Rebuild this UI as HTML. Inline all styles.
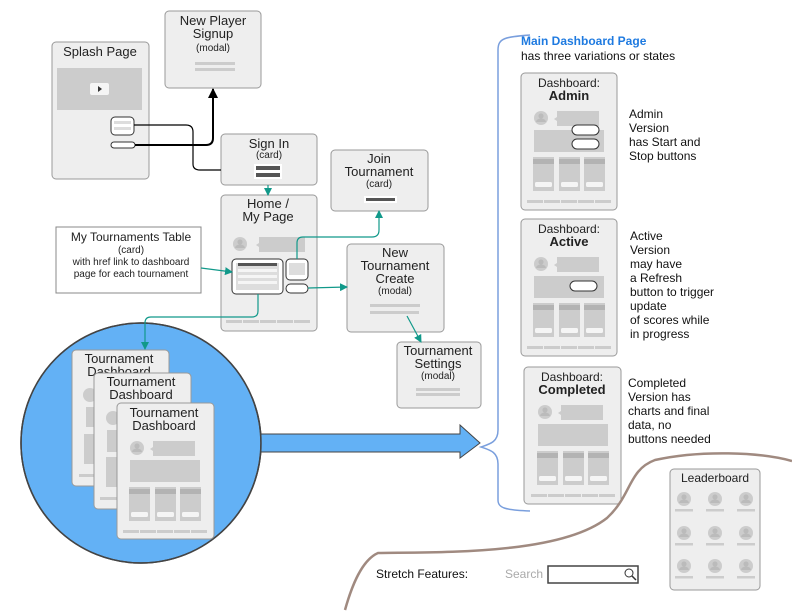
<!DOCTYPE html>
<html><head><meta charset="utf-8"><style>
html,body{margin:0;padding:0;background:#fff;}
svg{display:block;font-family:"Liberation Sans",Arial,sans-serif;}
</style></head><body>
<svg width="792" height="612" viewBox="0 0 792 612" xmlns="http://www.w3.org/2000/svg">
<defs>
<g id="av"><circle cx="0" cy="0" r="7" fill="#ccc"/><circle cx="0" cy="-2" r="2.6" fill="#bbb"/><path d="M-5,4 a5,3.5 0 0 1 10,0 z" fill="#bbb"/></g>
<g id="dash">
<use href="#av" x="20" y="45"/>
<path d="M36,38 h42 v15 h-42 v-5 l-3,-2 l3,-2 z" fill="#ccc"/>
<rect x="13" y="57" width="70" height="22" fill="#ccc"/>
<rect x="12" y="84" width="21" height="34" fill="#ccc"/><rect x="12" y="86" width="21" height="5" fill="#b3b3b3"/><rect x="14" y="109" width="17" height="5" rx="1.5" fill="#f5f5f5"/>
<rect x="38" y="84" width="21" height="34" fill="#ccc"/><rect x="38" y="86" width="21" height="5" fill="#b3b3b3"/><rect x="40" y="109" width="17" height="5" rx="1.5" fill="#f5f5f5"/>
<rect x="63" y="84" width="21" height="34" fill="#ccc"/><rect x="63" y="86" width="21" height="5" fill="#b3b3b3"/><rect x="65" y="109" width="17" height="5" rx="1.5" fill="#f5f5f5"/>
<g fill="#ccc"><rect x="6" y="127" width="16" height="3"/><rect x="23" y="127" width="16" height="3"/><rect x="40" y="127" width="16" height="3"/><rect x="57" y="127" width="16" height="3"/><rect x="74" y="127" width="16" height="3"/></g>
</g>
<g id="foot" fill="#ccc"><rect x="0" y="0" width="16" height="3"/><rect x="17" y="0" width="16" height="3"/><rect x="34" y="0" width="16" height="3"/><rect x="51" y="0" width="16" height="3"/><rect x="68" y="0" width="16" height="3"/></g>
<g id="lb"><use href="#av" x="0" y="0"/><rect x="-9" y="10" width="18" height="2.5" fill="#ccc"/></g>
<marker id="tk" markerWidth="8" markerHeight="8" refX="7" refY="4" orient="auto" markerUnits="userSpaceOnUse"><path d="M0,0 L8,4 L0,8 z" fill="#11998a"/></marker>
<marker id="bk" markerWidth="10" markerHeight="10" refX="9" refY="5" orient="auto" markerUnits="userSpaceOnUse"><path d="M0,0 L10,5 L0,10 z" fill="#000"/></marker>
</defs>

<g stroke="#999" stroke-width="1" fill="#eee">
<rect x="52" y="42" width="97" height="137" rx="4"/>
<rect x="165" y="11" width="96" height="77" rx="4"/>
<rect x="221" y="134" width="96" height="51" rx="4"/>
<rect x="221" y="195" width="96" height="136" rx="4"/>
<rect x="331" y="150" width="97" height="61" rx="4"/>
<rect x="347" y="244" width="97" height="88" rx="4"/>
<rect x="397" y="342" width="84" height="66" rx="4"/>
</g>
<rect x="56" y="227" width="145" height="66" fill="#fff" stroke="#888"/>

<text x="100" y="56" font-size="13" text-anchor="middle" fill="#222">Splash Page</text>
<rect x="57" y="68" width="85" height="42" fill="#ccc"/>
<rect x="90" y="83" width="19" height="12" rx="2" fill="#f5f5f5"/>
<path d="M98,86 l4,3 l-4,3z" fill="#333"/>
<rect x="111" y="117" width="23" height="18" rx="4" fill="#fff" stroke="#333"/>
<rect x="114" y="121" width="17" height="3" fill="#ddd"/><rect x="114" y="127" width="17" height="3" fill="#ddd"/>
<rect x="111" y="142" width="24" height="6" rx="3" fill="#fff" stroke="#333"/>

<g font-size="13" text-anchor="middle" fill="#222">
<text x="213" y="25">New Player</text><text x="213" y="38">Signup</text>
</g>
<text x="213" y="51" font-size="10" text-anchor="middle" fill="#222">(modal)</text>
<rect x="195" y="62" width="40" height="3" fill="#ccc"/><rect x="195" y="68" width="40" height="3" fill="#ccc"/>

<text x="269" y="148" font-size="13" text-anchor="middle" fill="#222">Sign In</text>
<text x="269" y="158" font-size="10" text-anchor="middle" fill="#222">(card)</text>
<rect x="254" y="164" width="28" height="15" fill="#fff"/>
<rect x="256" y="166" width="24" height="4" fill="#555"/><rect x="256" y="173" width="24" height="4" fill="#555"/>

<text x="268" y="208" font-size="13" text-anchor="middle" fill="#222">Home /</text>
<text x="268" y="221" font-size="13" text-anchor="middle" fill="#222">My Page</text>
<use href="#av" x="240" y="244"/>
<path d="M259,237 h46 v15 h-46 v-5 l-3,-2 l3,-2 z" fill="#ccc"/>
<rect x="232" y="259" width="51" height="35" rx="4" fill="#fff" stroke="#333"/>
<rect x="236" y="263" width="43" height="27" fill="#ddd"/>
<rect x="238" y="263" width="39" height="3" fill="#555"/>
<g fill="#f5f5f5"><rect x="238" y="269" width="39" height="3"/><rect x="238" y="275" width="39" height="3"/><rect x="238" y="281" width="39" height="3"/></g>
<rect x="286" y="259" width="22" height="21" rx="4" fill="#fff" stroke="#333"/>
<rect x="289" y="263" width="16" height="12" fill="#ddd"/>
<rect x="286" y="284" width="22" height="9" rx="4.5" fill="#fff" stroke="#333"/>
<use href="#foot" x="226" y="320"/>

<text x="379" y="163" font-size="13" text-anchor="middle" fill="#222">Join</text>
<text x="379" y="176" font-size="13" text-anchor="middle" fill="#222">Tournament</text>
<text x="379" y="187" font-size="10" text-anchor="middle" fill="#222">(card)</text>
<rect x="364" y="196" width="33" height="7" fill="#fff"/><rect x="366" y="198" width="29" height="3" fill="#555"/>

<g font-size="13" text-anchor="middle" fill="#222"><text x="395" y="257">New</text><text x="395" y="270">Tournament</text><text x="395" y="283">Create</text></g>
<text x="395" y="294" font-size="10" text-anchor="middle" fill="#222">(modal)</text>
<rect x="370" y="304" width="50" height="3" fill="#ccc"/><rect x="370" y="311" width="49" height="3" fill="#ccc"/>

<g font-size="13" text-anchor="middle" fill="#222"><text x="438" y="355">Tournament</text><text x="438" y="368">Settings</text></g>
<text x="438" y="379" font-size="10" text-anchor="middle" fill="#222">(modal)</text>
<rect x="416" y="388" width="44" height="3" fill="#ccc"/><rect x="416" y="393" width="44" height="3" fill="#ccc"/>

<text x="131" y="241" font-size="12" text-anchor="middle" fill="#222">My Tournaments Table</text>
<g font-size="10" text-anchor="middle" fill="#222"><text x="131" y="253">(card)</text><text x="131" y="265">with href link to dashboard</text><text x="131" y="277">page for each tournament</text></g>

<circle cx="141" cy="443" r="120" fill="#63b1f5" stroke="#444" stroke-width="1.5"/>
<path d="M261,434 H460 V425 L480,443 L460,458 V452 H261 Z" fill="#63b1f5" stroke="#444"/>
<circle cx="141" cy="443" r="120" fill="none" stroke="#444" stroke-width="1.5"/>
<rect x="72" y="350" width="97" height="136" rx="4" stroke="#999" fill="#eee"/>
<text x="119" y="363" font-size="13" text-anchor="middle" fill="#222">Tournament</text>
<text x="119" y="376" font-size="13" text-anchor="middle" fill="#222">Dashboard</text>
<circle cx="90" cy="395" r="7" fill="#ccc"/><rect x="86" y="407" width="10" height="20" fill="#ccc"/><rect x="84" y="434" width="12" height="30" fill="#ccc"/><rect x="79" y="474" width="20" height="3" fill="#ccc"/>
<rect x="94" y="373" width="97" height="136" rx="4" stroke="#999" fill="#eee"/>
<text x="141" y="386" font-size="13" text-anchor="middle" fill="#222">Tournament</text>
<text x="141" y="399" font-size="13" text-anchor="middle" fill="#222">Dashboard</text>
<circle cx="113" cy="418" r="7" fill="#ccc"/><rect x="107" y="430" width="10" height="22" fill="#ccc"/><rect x="106" y="457" width="12" height="30" fill="#ccc"/><rect x="100" y="497" width="20" height="3" fill="#ccc"/>
<rect x="117" y="403" width="97" height="136" rx="4" stroke="#999" fill="#eee"/>
<text x="164" y="417" font-size="13" text-anchor="middle" fill="#222">Tournament</text>
<text x="164" y="430" font-size="13" text-anchor="middle" fill="#222">Dashboard</text>
<use href="#dash" x="117" y="403"/>

<path d="M530,35 C505,37 498,38 498,50 V430 C498,442 490,444 481,447 C490,450 498,452 498,464 V500 C498,508 505,510 530,511" fill="none" stroke="#7a9fdd" stroke-width="1.5"/>

<text x="521" y="45" font-size="12" font-weight="bold" fill="#1e7ae0">Main Dashboard Page</text>
<text x="521" y="60" font-size="12" fill="#111">has three variations or states</text>

<rect x="521" y="73" width="96" height="137" rx="4" stroke="#999" fill="#eee"/>
<text x="569" y="87" font-size="12" text-anchor="middle" fill="#222">Dashboard:</text>
<text x="569" y="100" font-size="13" font-weight="bold" text-anchor="middle" fill="#222">Admin</text>
<use href="#dash" x="521" y="73"/>
<rect x="572" y="125" width="27" height="10" rx="5" fill="#fff" stroke="#333"/>
<rect x="572" y="139" width="27" height="10" rx="5" fill="#fff" stroke="#333"/>
<g font-size="12" fill="#111"><text x="629" y="118">Admin</text><text x="629" y="132">Version</text><text x="629" y="146">has Start and</text><text x="629" y="160">Stop buttons</text></g>

<rect x="521" y="219" width="96" height="137" rx="4" stroke="#999" fill="#eee"/>
<text x="569" y="233" font-size="12" text-anchor="middle" fill="#222">Dashboard:</text>
<text x="569" y="246" font-size="13" font-weight="bold" text-anchor="middle" fill="#222">Active</text>
<use href="#dash" x="521" y="219"/>
<rect x="570" y="281" width="27" height="10" rx="5" fill="#fff" stroke="#333"/>
<g font-size="12" fill="#111"><text x="630" y="240">Active</text><text x="630" y="254">Version</text><text x="630" y="268">may have</text><text x="630" y="282">a Refresh</text><text x="630" y="296">button to trigger</text><text x="630" y="310">update</text><text x="630" y="324">of scores while</text><text x="630" y="338">in progress</text></g>

<rect x="524" y="367" width="97" height="137" rx="4" stroke="#999" fill="#eee"/>
<text x="572" y="381" font-size="12" text-anchor="middle" fill="#222">Dashboard:</text>
<text x="572" y="394" font-size="13" font-weight="bold" text-anchor="middle" fill="#222">Completed</text>
<use href="#dash" x="525" y="367"/>
<g font-size="12" fill="#111"><text x="628" y="387">Completed</text><text x="628" y="401">Version has</text><text x="628" y="415">charts and final</text><text x="628" y="429">data, no</text><text x="628" y="443">buttons needed</text></g>

<path d="M345,610 C352,585 362,560 378,553 C440,552 560,555 607,518 C632,495 628,470 655,460 C700,450 760,452 792,461" fill="none" stroke="#a08a80" stroke-width="2.5"/>

<rect x="670" y="469" width="90" height="121" rx="4" stroke="#999" fill="#eee"/>
<text x="715" y="482" font-size="12" text-anchor="middle" fill="#222">Leaderboard</text>
<use href="#lb" x="684" y="499"/><use href="#lb" x="715" y="499"/><use href="#lb" x="746" y="499"/>
<use href="#lb" x="684" y="533"/><use href="#lb" x="715" y="533"/><use href="#lb" x="746" y="533"/>
<use href="#lb" x="684" y="566"/><use href="#lb" x="715" y="566"/><use href="#lb" x="746" y="566"/>

<text x="376" y="578" font-size="12" fill="#111">Stretch Features:</text>
<text x="505" y="578" font-size="12" fill="#aaa">Search</text>
<rect x="548" y="566" width="90" height="17" fill="#fff" stroke="#444" stroke-width="1.5"/>
<circle cx="629" cy="573" r="4" fill="none" stroke="#333"/><path d="M632,576 l4,4" stroke="#333" stroke-width="1.5"/>

<path d="M134,125 H186 Q193,125 193,132 V164 Q193,170 200,170 H221" fill="none" stroke="#000" stroke-width="1.2"/>
<path d="M135,145 H206 Q213,145 213,138 V89" fill="none" stroke="#000" stroke-width="2" marker-end="url(#bk)"/>

<g fill="none" stroke="#11998a" stroke-width="1.2" marker-end="url(#tk)">
<path d="M268,185 V195"/>
<path d="M201,268 L232,272"/>
<path d="M297,259 V243 Q297,237 303,237 H372 Q379,237 379,230 V211"/>
<path d="M308,288 L347,287"/>
<path d="M407,316 L421,342"/>
<path d="M258,294 V311 Q258,317 252,317 H151 Q145,317 145,323 V349"/>
</g>
</svg>
</body></html>
